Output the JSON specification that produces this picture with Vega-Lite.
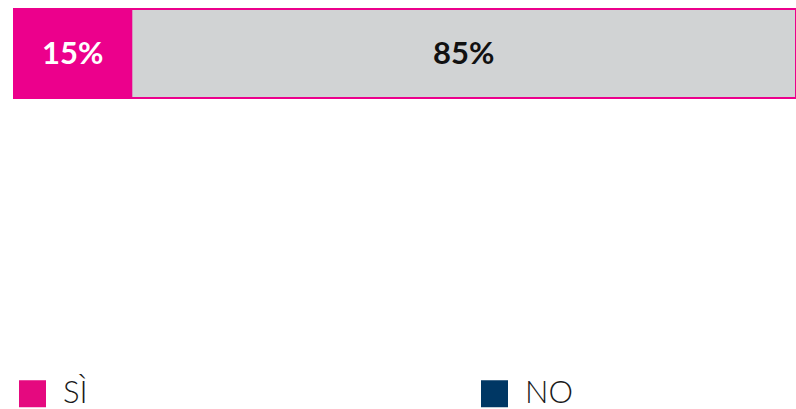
{
  "$schema": "https://vega.github.io/schema/vega-lite/v6.json",
  "width": 782,
  "height": 89,
  "autosize": {"type": "none"},
  "padding": {"left": 14, "top": 9, "right": 0, "bottom": 311},
  "background": "#ffffff",
  "config": {"view": {"stroke": null}, "font": "Lato"},
  "data": {"values": [
    {"q": "Q", "answer": "SÌ", "pct": 15, "ord": 1, "label": "15%"},
    {"q": "Q", "answer": "NO", "pct": 85, "ord": 2, "label": "85%"}
  ]},
  "transform": [
    {"stack": "pct", "groupby": ["q"], "sort": [{"field": "ord"}], "as": ["x0", "x1"]},
    {"calculate": "(datum.x0 + datum.x1) / 2", "as": "xm"}
  ],
  "encoding": {
    "y": {"field": "q", "type": "nominal", "axis": null, "scale": {"paddingInner": 0, "paddingOuter": 0}}
  },
  "layer": [
    {
      "mark": {"type": "bar", "stroke": "#ec008c", "strokeWidth": 2},
      "encoding": {
        "x": {"field": "x0", "type": "quantitative", "axis": null, "scale": {"domain": [0, 100], "nice": false, "zero": true}},
        "x2": {"field": "x1"},
        "fill": {"field": "answer", "type": "nominal", "legend": null, "scale": {"domain": ["SÌ", "NO"], "range": ["#ec008c", "#d1d3d4"]}}
      }
    },
    {
      "mark": {"type": "text", "font": "Lato", "fontSize": 31, "fontWeight": "bold", "align": "center", "baseline": "middle", "dy": 1},
      "encoding": {
        "x": {"field": "xm", "type": "quantitative"},
        "text": {"field": "label"},
        "fill": {"field": "answer", "type": "nominal", "legend": null, "scale": {"domain": ["SÌ", "NO"], "range": ["#ffffff", "#111111"]}}
      }
    },
    {
      "mark": {"type": "point", "shape": "square", "filled": true, "opacity": 0},
      "encoding": {
        "color": {"field": "answer", "type": "nominal", "scale": {"domain": ["SÌ", "NO"], "range": ["#e5097f", "#003764"]},
          "legend": {
            "title": null, "orient": "none", "legendX": 3, "legendY": 369, "direction": "horizontal", "columns": 2,
            "columnPadding": 391, "padding": 0, "symbolType": "square", "symbolSize": 729, "symbolOpacity": 1,
            "symbolStrokeWidth": 0, "labelFont": "Lato", "labelFontWeight": 300, "labelFontSize": 31,
            "labelColor": "#1a1a1a", "labelOffset": 15, "labelBaseline": "middle"
          }
        }
      }
    }
  ],
  "resolve": {"scale": {"fill": "independent", "color": "independent"}}
}
